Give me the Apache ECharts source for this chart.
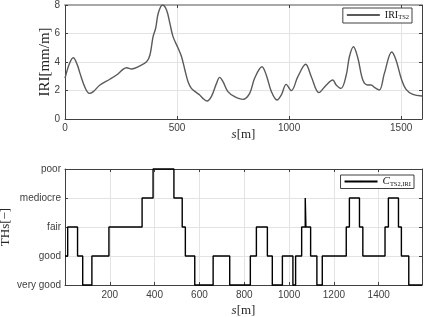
<!DOCTYPE html>
<html><head><meta charset="utf-8">
<script src="https://cdn.jsdelivr.net/npm/echarts@6/dist/echarts.min.js"></script>
<style>html,body{margin:0;padding:0;background:#fff}#c{width:424px;height:317px}</style>
</head><body><div id="c"></div>
<script>
// IRI curve (top)
const iriS = [0, 20, 37, 55, 67, 89, 108, 126, 156, 200, 230, 260, 275, 297, 327, 364, 379, 393, 405, 416, 435, 453, 468, 482, 505, 520, 535, 549, 564, 587, 601, 615, 634, 653, 676, 690, 705, 727, 757, 794, 824, 846, 879, 898, 921, 946, 965, 987, 1010, 1039, 1074, 1099, 1133, 1166, 1195, 1210, 1232, 1255, 1269, 1287, 1307, 1329, 1351, 1366, 1381, 1403, 1425, 1458, 1477, 1500, 1522, 1552, 1593];
const iriV = [2.86, 3.9, 4.3, 3.8, 3.2, 2.22, 1.80, 1.92, 2.39, 2.79, 3.09, 3.5, 3.6, 3.51, 3.67, 4.02, 4.49, 5.78, 6.4, 7.42, 8.0, 7.65, 6.71, 5.78, 4.96, 4.37, 3.44, 2.62, 2.15, 1.85, 1.68, 1.45, 1.26, 1.57, 2.5, 2.92, 2.62, 1.92, 1.57, 1.38, 1.8, 2.86, 3.67, 3.09, 1.92, 1.33, 1.68, 2.43, 1.99, 2.97, 3.84, 2.97, 1.85, 2.39, 2.74, 2.39, 2.15, 3.09, 4.37, 5.07, 4.26, 2.74, 2.39, 2.39, 2.22, 2.04, 3.2, 4.7, 4.14, 2.86, 2.08, 1.73, 1.61];
// Class steps (bottom): level holds from stepS[i] to stepS[i+1]
const stepS = [0, 12, 56, 79, 120, 196, 344, 393, 486, 523, 537, 579, 661, 735, 827, 854, 903, 925, 970, 1017, 1029, 1056, 1072, 1075, 1096, 1124, 1148, 1255, 1269, 1314, 1329, 1428, 1443, 1488, 1501, 1534, 1593];
const stepLv = [1, 2, 1, 0, 1, 2, 3, 4, 3, 2, 1, 0, 1, 0, 1, 2, 1, 0, 1, 0, 1, 2, 3, 2, 1, 0, 1, 2, 3, 2, 1, 2, 3, 2, 1, 0, 0];
const classNames = ['very good', 'good', 'fair', 'mediocre', 'poor'];
const sMax = 1593;

const chart = echarts.init(document.getElementById('c'), null, {renderer: 'canvas'});
const axCol = '#404040';
const gridCol = '#e3e3e3';
const tickFont = {fontFamily: 'Liberation Sans', fontSize: 10, color: '#404040'};
const serif = 'Liberation Serif';
const plain = v => String(v);

function boxAxes(idx, pos, min, max, interval, lineColor, lineW) {
  return {
    gridIndex: idx, position: pos, type: 'value', min: min, max: max, interval: interval,
    axisLine: {show: true, onZero: false, lineStyle: {color: lineColor || axCol, width: lineW || 1}},
    axisTick: {show: true, inside: true, length: 3, lineStyle: {color: axCol}},
    axisLabel: {show: false}, splitLine: {show: false}
  };
}

const option = {
  animation: false,
  backgroundColor: '#fff',
  grid: [
    {left: 65, right: 2, top: 5, height: 114, outerBoundsMode: 'none', containLabel: false},
    {left: 65, right: 2, top: 169, height: 116, outerBoundsMode: 'none', containLabel: false}
  ],
  xAxis: [
    {gridIndex: 0, type: 'value', min: 0, max: sMax, interval: 500,
     axisLine: {show: true, onZero: false, lineStyle: {color: axCol}},
     axisTick: {show: true, inside: true, length: 3, lineStyle: {color: axCol}},
     axisLabel: Object.assign({margin: 4, showMaxLabel: false, formatter: plain}, tickFont),
     splitLine: {show: true, lineStyle: {color: gridCol}},
     name: '{i|s}{r|[m]}', nameLocation: 'middle', nameGap: 9, nameMoveOverlap: false,
     nameTextStyle: {rich: {i: {fontFamily: serif, fontStyle: 'italic', fontSize: 13, color: '#262626'}, r: {fontFamily: serif, fontSize: 13, color: '#262626'}}}},
    boxAxes(0, 'top', 0, sMax, 500, '#a8a8a8', 2),
    {gridIndex: 1, type: 'value', min: 0, max: sMax, interval: 200,
     axisLine: {show: true, onZero: false, lineStyle: {color: axCol}},
     axisTick: {show: true, inside: true, length: 3, lineStyle: {color: axCol}},
     axisLabel: Object.assign({margin: 5, showMaxLabel: false, showMinLabel: false, formatter: plain}, tickFont),
     splitLine: {show: true, lineStyle: {color: gridCol}},
     name: '{i|s}{r|[m]}', nameLocation: 'middle', nameGap: 19, nameMoveOverlap: false,
     nameTextStyle: {rich: {i: {fontFamily: serif, fontStyle: 'italic', fontSize: 13, color: '#262626'}, r: {fontFamily: serif, fontSize: 13, color: '#262626'}}}},
    boxAxes(1, 'top', 0, sMax, 200)
  ],
  yAxis: [
    {gridIndex: 0, type: 'value', min: 0, max: 8, interval: 2,
     axisLine: {show: true, onZero: false, lineStyle: {color: axCol}},
     axisTick: {show: true, inside: true, length: 3, lineStyle: {color: axCol}},
     axisLabel: Object.assign({margin: 5, formatter: plain}, tickFont),
     splitLine: {show: true, lineStyle: {color: gridCol}},
     name: 'IRI[mm/m]', nameLocation: 'middle', nameGap: 12, nameMoveOverlap: false,
     nameTextStyle: {fontFamily: serif, fontSize: 15, color: '#262626'}},
    boxAxes(0, 'right', 0, 8, 2),
    {gridIndex: 1, type: 'value', min: 0, max: 4, interval: 1,
     axisLine: {show: true, onZero: false, lineStyle: {color: axCol}},
     axisTick: {show: true, inside: true, length: 3, lineStyle: {color: axCol}},
     axisLabel: Object.assign({margin: 4, formatter: v => classNames[v] || ''}, tickFont),
     splitLine: {show: true, lineStyle: {color: gridCol}},
     name: 'THs[−]', nameLocation: 'middle', nameGap: 53, nameMoveOverlap: false,
     nameTextStyle: {fontFamily: serif, fontSize: 13, color: '#262626'}},
    boxAxes(1, 'right', 0, 4, 1)
  ],
  legend: [
    {data: ['IRI'], right: 12, top: 8, orient: 'horizontal',
     backgroundColor: '#fff', borderColor: axCol, borderWidth: 1, borderRadius: 0,
     padding: [2, 3, 2, 3], itemWidth: 33, itemHeight: 2, itemGap: 2,
     formatter: () => '{n|IRI}{s|TS2}',
     textStyle: {rich: {n: {fontFamily: serif, fontSize: 10, color: '#111'}, s: {fontFamily: serif, fontSize: 6.5, color: '#111', padding: [5, 0, 0, 0]}}}},
    {data: ['C'], right: 10, top: 175, orient: 'horizontal',
     backgroundColor: '#fff', borderColor: axCol, borderWidth: 1, borderRadius: 0,
     padding: [1, 3, 1, 3], itemWidth: 33, itemHeight: 2, itemGap: 2,
     formatter: () => '{n|C}{s|TS2,IRI}',
     textStyle: {rich: {n: {fontFamily: serif, fontStyle: 'italic', fontSize: 11, color: '#111'}, s: {fontFamily: serif, fontSize: 6.5, color: '#111', padding: [5, 0, 0, 0]}}}}
  ],
  series: [
    {name: 'IRI', type: 'line', xAxisIndex: 0, yAxisIndex: 0,
     data: iriS.map((s, i) => [s, iriV[i]]),
     smooth: 0.35, symbol: 'none', clip: true,
     lineStyle: {color: '#5a5a5a', width: 1.4}, itemStyle: {color: '#5a5a5a'}},
    {name: 'C', type: 'line', xAxisIndex: 2, yAxisIndex: 2,
     data: stepS.map((s, i) => [s, stepLv[i]]),
     step: 'end', symbol: 'none', clip: false,
     lineStyle: {color: '#000', width: 1.4}, itemStyle: {color: '#000'}}
  ]
};
chart.setOption(option);
</script>
</body></html>
